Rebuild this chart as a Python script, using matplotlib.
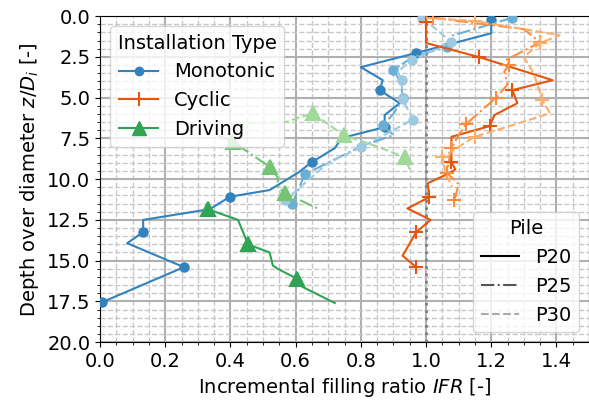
import numpy as np
import matplotlib
matplotlib.use("Agg")
import matplotlib.pyplot as plt
from matplotlib.lines import Line2D
from matplotlib.ticker import MultipleLocator

# ---------------------------------------------
# data: depth z/D_i and IFR per test
# ---------------------------------------------
mono_p20_z = [0.25, 1.05, 2.27, 3.13, 3.93, 4.54, 5.34, 6.07, 6.81, 7.48, 8.10, 8.96,
              9.57, 10.67, 11.08, 11.84, 12.50, 13.25, 13.93, 15.40, 17.55]
mono_p20_ifr = [1.20, 1.20, 0.968, 0.80, 0.867, 0.858, 0.919, 0.873, 0.873, 0.741, 0.72,
                0.649, 0.61, 0.52, 0.398, 0.337, 0.132, 0.132, 0.083, 0.257, 0.006]
mono_p20_mk = [0, 2, 5, 8, 11, 14, 17, 19, 20]

mono_p25_z = [0.10, 1.20, 1.90, 2.50, 3.30, 4.00, 5.00, 6.00, 6.70, 7.30, 8.00, 9.70, 11.50]
mono_p25_ifr = [1.265, 1.08, 1.063, 0.96, 0.90, 0.92, 0.93, 0.90, 0.867, 0.90, 0.80, 0.628, 0.59]
mono_p25_mk = [0, 2, 4, 6, 8, 11, 12]

mono_p30_z = [0.10, 1.60, 2.70, 3.40, 3.90, 5.10, 6.35, 8.05, 9.00, 11.30]
mono_p30_ifr = [0.989, 1.078, 0.956, 0.913, 0.925, 0.928, 0.96, 0.80, 0.70, 0.567]
mono_p30_mk = [0, 1, 2, 4, 5, 6, 7, 9]

cyc_p20_z = [0.35, 1.65, 2.52, 3.93, 4.54, 5.34, 6.07, 6.75, 7.40, 8.96, 9.40, 9.65,
             10.25, 11.10, 11.80, 12.50, 13.25, 14.70, 15.40]
cyc_p20_ifr = [1.00, 1.00, 1.164, 1.388, 1.265, 1.28, 1.21, 1.195, 1.078, 1.078, 1.09,
               1.07, 1.005, 1.01, 0.943, 1.014, 0.97, 0.928, 0.97]
cyc_p20_mk = [0, 2, 4, 7, 9, 13, 16, 18]

cyc_p25_z = [0.10, 0.30, 0.80, 1.60, 2.70, 3.00, 3.40, 4.20, 5.00, 6.60, 7.30, 8.10, 9.60,
             10.30, 11.30]
cyc_p25_ifr = [1.02, 1.10, 1.30, 1.35, 1.245, 1.255, 1.24, 1.25, 1.215, 1.124, 1.10, 1.078,
               1.063, 1.10, 1.087]
cyc_p25_mk = [0, 3, 5, 8, 9, 11, 12, 14]

cyc_p30_z = [0.10, 0.30, 1.17, 1.66, 2.50, 3.50, 5.15, 5.95, 6.50, 7.40, 8.65, 9.60, 10.50]
cyc_p30_ifr = [1.00, 1.15, 1.41, 1.35, 1.30, 1.33, 1.357, 1.38, 1.296, 1.149, 1.05, 1.06, 1.08]
cyc_p30_mk = [1, 3, 6, 9, 10]

drv_p20_z = [11.84, 12.50, 14.00, 14.50, 15.30, 15.50, 16.10, 16.60, 17.60]
drv_p20_ifr = [0.33, 0.423, 0.454, 0.52, 0.53, 0.545, 0.603, 0.62, 0.72]
drv_p20_mk = [0, 2, 6]

drv_p25_z = [7.30, 7.70, 9.26, 9.90, 10.50, 10.86, 11.80]
drv_p25_ifr = [0.36, 0.407, 0.521, 0.545, 0.545, 0.567, 0.668]
drv_p25_mk = [1, 2, 5]

drv_p30_z = [6.60, 6.50, 5.95, 7.30, 8.00, 8.65, 9.40]
drv_p30_ifr = [0.42, 0.57, 0.652, 0.747, 0.85, 0.934, 0.95]
drv_p30_mk = [2, 3, 5]

# colours from tab20c (dark -> light per installation type)
c20 = plt.get_cmap("tab20c").colors
blues = [c20[0], c20[1], c20[2]]
oranges = [c20[4], c20[5], c20[6]]
greens = [c20[8], c20[9], c20[10]]
styles = ["-", "-.", "--"]

plt.rcParams["font.size"] = 14

fig = plt.figure(figsize=(5.89, 4.03), dpi=100)
ax = fig.add_axes([0.170, 0.151, 0.830, 0.809])

series = [
    (mono_p20_ifr, mono_p20_z, mono_p20_mk, blues[0], styles[0], "o", 6),
    (mono_p25_ifr, mono_p25_z, mono_p25_mk, blues[1], styles[1], "o", 6),
    (mono_p30_ifr, mono_p30_z, mono_p30_mk, blues[2], styles[2], "o", 6),
    (cyc_p20_ifr, cyc_p20_z, cyc_p20_mk, oranges[0], styles[0], "+", 9.5),
    (cyc_p25_ifr, cyc_p25_z, cyc_p25_mk, oranges[1], styles[1], "+", 9.5),
    (cyc_p30_ifr, cyc_p30_z, cyc_p30_mk, oranges[2], styles[2], "+", 9.5),
    (drv_p20_ifr, drv_p20_z, drv_p20_mk, greens[0], styles[0], "^", 10),
    (drv_p25_ifr, drv_p25_z, drv_p25_mk, greens[1], styles[1], "^", 10),
    (drv_p30_ifr, drv_p30_z, drv_p30_mk, greens[2], styles[2], "^", 10),
]
for x, z, mk, col, ls, m, ms in series:
    ax.plot(x, z, color=col, ls=ls, lw=1.5, marker=m, ms=ms, mew=1.5,
            markevery=mk, zorder=3)

ax.axvline(1.0, color="gray", ls=":", lw=2, zorder=2)

ax.set_xlim(0, 1.5)
ax.set_ylim(20, 0)
ax.xaxis.set_major_locator(MultipleLocator(0.2))
ax.xaxis.set_minor_locator(MultipleLocator(0.05))
ax.yaxis.set_major_locator(MultipleLocator(2.5))
ax.yaxis.set_minor_locator(MultipleLocator(0.5))
ax.grid(which="major", color="#b0b0b0", lw=1.5, ls="-")
ax.grid(which="minor", color="#c8c8c8", lw=1.0, ls="--")
ax.set_axisbelow(True)

ax.set_xlabel(r"Incremental filling ratio $IFR$ [-]")
ax.set_ylabel(r"Depth over diameter $z/D_i$ [-]")

type_handles = [
    Line2D([], [], color=blues[0], marker="o", ms=6, lw=1.5),
    Line2D([], [], color=oranges[0], marker="+", ms=10, mew=1.5, lw=1.5),
    Line2D([], [], color=greens[0], marker="^", ms=10, lw=1.5),
]
leg1 = ax.legend(type_handles, ["Monotonic", "Cyclic", "Driving"],
                 title="Installation Type", loc="upper left")
ax.add_artist(leg1)

pile_handles = [
    Line2D([], [], color="black", ls="-", lw=1.5),
    Line2D([], [], color="#555555", ls="-.", lw=1.5),
    Line2D([], [], color="#aaaaaa", ls="--", lw=1.5),
]
ax.legend(pile_handles, ["P20", "P25", "P30"], title="Pile", loc="lower right")

fig.savefig("out.png", dpi=100)
